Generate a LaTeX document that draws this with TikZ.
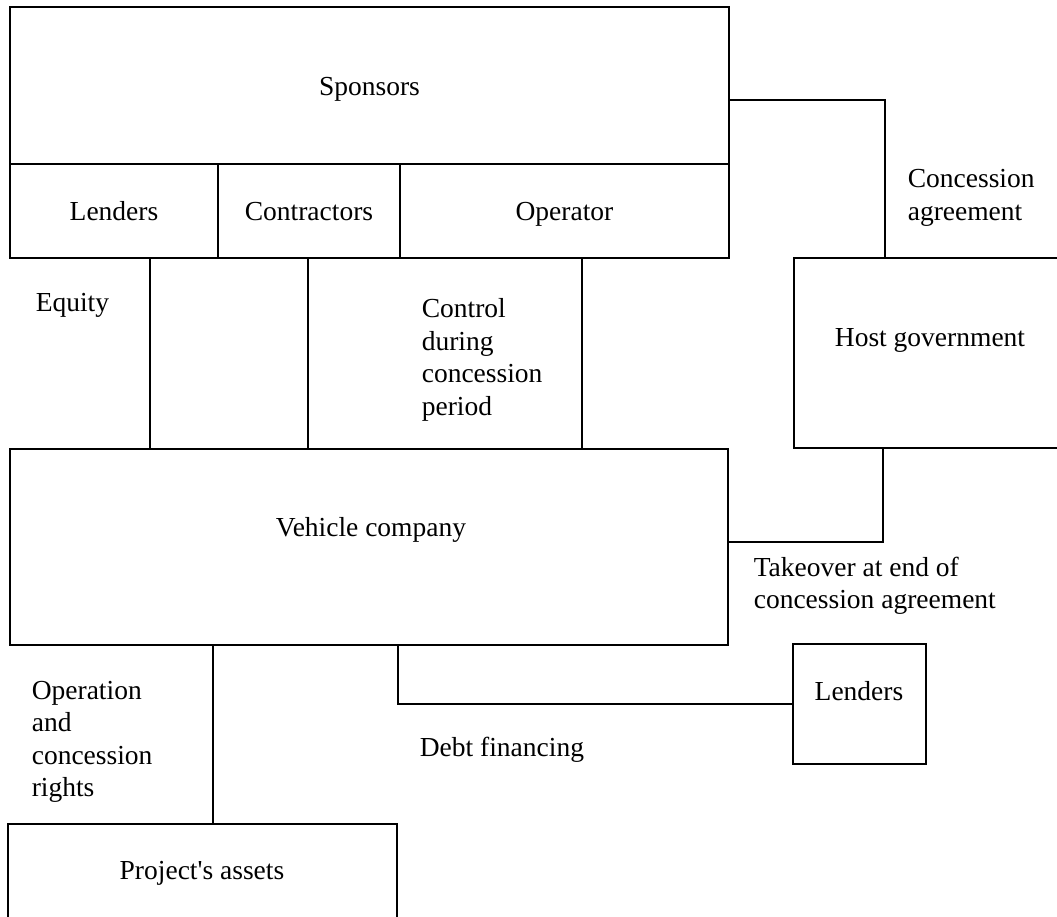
\documentclass[tikz,border=0pt]{standalone}
\usepackage{fontspec}
\setmainfont{Liberation Serif}
\begin{document}
\begin{tikzpicture}[x=1pt, y=-1pt, line width=1.6pt,
    box/.style={draw, inner sep=0pt, text height=19pt, text depth=0pt},
    every node/.style={font=\fontsize{27.5}{32.5}\selectfont},
    txt/.style={inner sep=0pt, align=left, anchor=west}]
    \useasboundingbox (0,0) rectangle (1057,916);
    \node[box, minimum width=719pt, minimum height=157pt] (sponsors) at (369.5,85.5) {Sponsors};
    \node[box, minimum width=208pt, minimum height=94pt] (lenders) at (114,211) {Lenders};
    \node[box, minimum width=182pt, minimum height=94pt] (contractors) at (309,211) {Contractors};
    \node[box, minimum width=329pt, minimum height=94pt] (operator) at (564.5,211) {Operator};
    \node[box, minimum width=718pt, minimum height=196pt] (vehicle) at (369,547) {};
    \node (vehicletext) at (371,530) {Vehicle company};
    \node[box, minimum width=276pt, minimum height=190pt] (hostgov) at (932,353) {};
    \node (hostgovtext) at (930,340) {Host government};
    \node[box, minimum width=133pt, minimum height=120pt] (banks) at (859.5,704) {};
    \node (bankstext) at (859,691) {Lenders};
    \node[box, minimum width=389pt, minimum height=106pt] (assets) at (202.5,877) {};
    \node (assetstext) at (202,873) {Project\textquotesingle s assets};
    \foreach \xx in {150,308,582}
        \draw (\xx,0 |- operator.south) -- (\xx,0 |- vehicle.north);
    \draw ([yshift=-14.5pt]sponsors.east) -| ([xshift=92pt]hostgov.north west);
    \draw ([xshift=90pt]hostgov.south west) |- ([yshift=5pt]vehicle.east);
    \draw (398,0 |- vehicle.south) |- (banks.west);
    \draw (213,0 |- vehicle.south) -- (213,0 |- assets.north);
    \node[txt] (equity) at (35,305) {Equity};
    \node[txt] (control) at (421,360) {Control\\during\\concession\\period};
    \node[txt] (concession) at (907,198) {Concession\\agreement};
    \node[txt] (takeover) at (753,586) {Takeover at end of\\concession agreement};
    \node[txt] (debt) at (419,750) {Debt financing};
    \node[txt] (rights) at (31,742) {Operation\\and\\concession\\rights};
\end{tikzpicture}
\end{document}
